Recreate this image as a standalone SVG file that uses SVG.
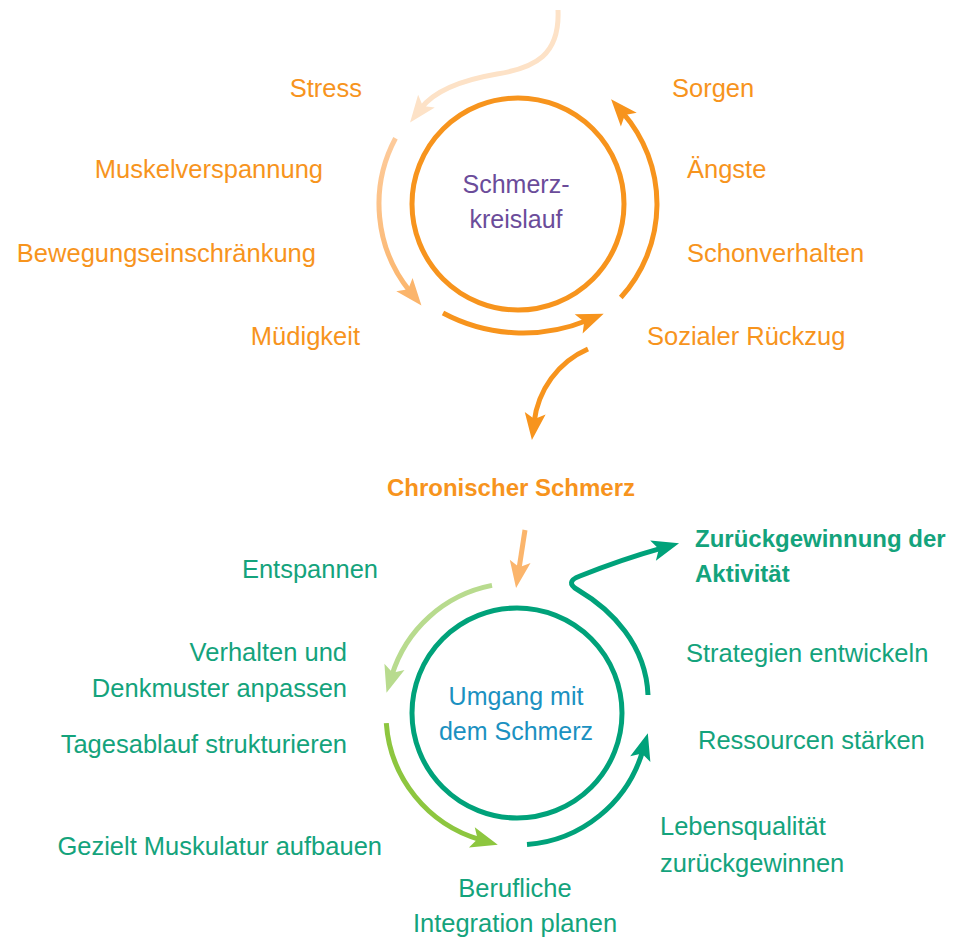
<svg xmlns="http://www.w3.org/2000/svg" width="955" height="938" viewBox="0 0 955 938">
<style>
  text { font-family: "Liberation Sans", Arial, sans-serif; font-size: 25.5px; }
  .or { fill: #f7941d; }
  .tl { fill: #14a37c; }
  .bold { font-weight: bold; font-size: 24px; }
  .ctr { font-size: 25px; }
  .mid { text-anchor: middle; }
  .end { text-anchor: end; }
  .line { fill: none; stroke-width: 5; stroke-linecap: butt; }
</style>
<defs>
  <linearGradient id="gLeft" gradientUnits="userSpaceOnUse" x1="0" y1="138" x2="0" y2="300">
    <stop offset="0" stop-color="#fdcb9c"/>
    <stop offset="1" stop-color="#fbb56c"/>
  </linearGradient>
  <marker id="aOr" markerUnits="userSpaceOnUse" markerWidth="40" markerHeight="40" refX="0" refY="0" viewBox="-20 -20 40 40" orient="auto" overflow="visible">
    <path d="M18,0 L-9,-10.5 L-3,0 L-9,10.5 Z" fill="#f7941d"/>
  </marker>
  <marker id="aLo" markerUnits="userSpaceOnUse" markerWidth="40" markerHeight="40" refX="0" refY="0" viewBox="-20 -20 40 40" orient="auto" overflow="visible">
    <path d="M18,0 L-9,-10.5 L-3,0 L-9,10.5 Z" fill="#fbb56c"/>
  </marker>
  <marker id="aPe" markerUnits="userSpaceOnUse" markerWidth="40" markerHeight="40" refX="0" refY="0" viewBox="-20 -20 40 40" orient="auto" overflow="visible">
    <path d="M18,0 L-9,-10.5 L-3,0 L-9,10.5 Z" fill="#fde2c7"/>
  </marker>
  <marker id="aLg" markerUnits="userSpaceOnUse" markerWidth="40" markerHeight="40" refX="0" refY="0" viewBox="-20 -20 40 40" orient="auto" overflow="visible">
    <path d="M18,0 L-9,-10.5 L-3,0 L-9,10.5 Z" fill="#b8db8e"/>
  </marker>
  <marker id="aGr" markerUnits="userSpaceOnUse" markerWidth="40" markerHeight="40" refX="0" refY="0" viewBox="-20 -20 40 40" orient="auto" overflow="visible">
    <path d="M18,0 L-9,-10.5 L-3,0 L-9,10.5 Z" fill="#8dc63f"/>
  </marker>
  <marker id="aTe" markerUnits="userSpaceOnUse" markerWidth="40" markerHeight="40" refX="0" refY="0" viewBox="-20 -20 40 40" orient="auto" overflow="visible">
    <path d="M18,0 L-9,-10.5 L-3,0 L-9,10.5 Z" fill="#00a27a"/>
  </marker>
</defs>
<rect width="955" height="938" fill="#ffffff"/>

<g id="connectors">
  <!-- top cycle -->
  <path class="line" stroke="#fde2c7" d="M558,10 C560,55 535,68 497,74 C462,80 435,90 421,108.3" marker-end="url(#aPe)"/>
  <path class="line" stroke="url(#gLeft)" d="M395.5,138.3 A139,139 0 0 0 410.1,291.6" marker-end="url(#aLo)"/>
  <path class="line" stroke="#f7941d" d="M443,313 A170,170 0 0 0 587,320.5" marker-end="url(#aOr)"/>
  <path class="line" stroke="#f7941d" d="M620.8,297.5 A139,139 0 0 0 622.9,112.8" marker-end="url(#aOr)"/>
  <path class="line" stroke="#f7941d" d="M588,349 C558,362 538,390 534.1,422.1" marker-end="url(#aOr)"/>
  <!-- to bottom cycle -->
  <path class="line" stroke="#fbb56c" d="M525,530 L518.8,570.2" marker-end="url(#aLo)"/>
  <!-- bottom cycle -->
  <path class="line" stroke="#b8db8e" d="M492,585.4 A131,131 0 0 0 391.8,675.5" marker-end="url(#aLg)"/>
  <path class="line" stroke="#8dc63f" d="M386.3,723.1 A131,131 0 0 0 480.5,839.8" marker-end="url(#aGr)"/>
  <path class="line" stroke="#00a27a" d="M527,844.6 A131,131 0 0 0 642.8,750.5" marker-end="url(#aTe)"/>
  <path class="line" stroke="#00a27a" d="M648,695 C646,645 612,610 578,590 Q564,582 580,576 C600,568 630,557 661.7,548.1" marker-end="url(#aTe)"/>
</g>

<g id="schmerzkreislauf">
  <circle cx="518" cy="204" r="106" fill="none" stroke="#f7941d" stroke-width="5"/>
  <text x="516" y="193" class="mid ctr" fill="#6b4c9a">Schmerz-</text>
  <text x="516" y="228" class="mid ctr" fill="#6b4c9a">kreislauf</text>
</g>

<g id="label-stress"><text x="362" y="97" class="or end">Stress</text></g>
<g id="label-muskelverspannung"><text x="323" y="178" class="or end">Muskelverspannung</text></g>
<g id="label-bewegung"><text x="316" y="262" class="or end">Bewegungseinschränkung</text></g>
<g id="label-muedigkeit"><text x="360" y="345" class="or end">Müdigkeit</text></g>
<g id="label-sorgen"><text x="672" y="97" class="or">Sorgen</text></g>
<g id="label-aengste"><text x="687" y="178" class="or">Ängste</text></g>
<g id="label-schonverhalten"><text x="687" y="262" class="or">Schonverhalten</text></g>
<g id="label-rueckzug"><text x="647" y="345" class="or">Sozialer Rückzug</text></g>

<g id="chronischer-schmerz"><text x="511" y="496" class="or bold mid">Chronischer Schmerz</text></g>

<g id="umgang">
  <circle cx="517" cy="713" r="105" fill="none" stroke="#00a27a" stroke-width="5"/>
  <text x="516" y="705" class="mid ctr" fill="#1b91c1">Umgang mit</text>
  <text x="516" y="740" class="mid ctr" fill="#1b91c1">dem Schmerz</text>
</g>

<g id="label-zurueckgewinnung">
  <text x="695" y="547" class="tl bold">Zurückgewinnung der</text>
  <text x="695" y="582" class="tl bold">Aktivität</text>
</g>
<g id="label-entspannen"><text x="378" y="578" class="tl end">Entspannen</text></g>
<g id="label-verhalten">
  <text x="347" y="661" class="tl end">Verhalten und</text>
  <text x="347" y="697" class="tl end">Denkmuster anpassen</text>
</g>
<g id="label-tagesablauf"><text x="347" y="753" class="tl end">Tagesablauf strukturieren</text></g>
<g id="label-muskulatur"><text x="382" y="855" class="tl end">Gezielt Muskulatur aufbauen</text></g>
<g id="label-berufliche">
  <text x="515" y="897" class="tl mid">Berufliche</text>
  <text x="515" y="932" class="tl mid">Integration planen</text>
</g>
<g id="label-lebensqualitaet">
  <text x="660" y="835" class="tl">Lebensqualität</text>
  <text x="660" y="872" class="tl">zurückgewinnen</text>
</g>
<g id="label-ressourcen"><text x="698" y="749" class="tl">Ressourcen stärken</text></g>
<g id="label-strategien"><text x="686" y="662" class="tl">Strategien entwickeln</text></g>
</svg>
